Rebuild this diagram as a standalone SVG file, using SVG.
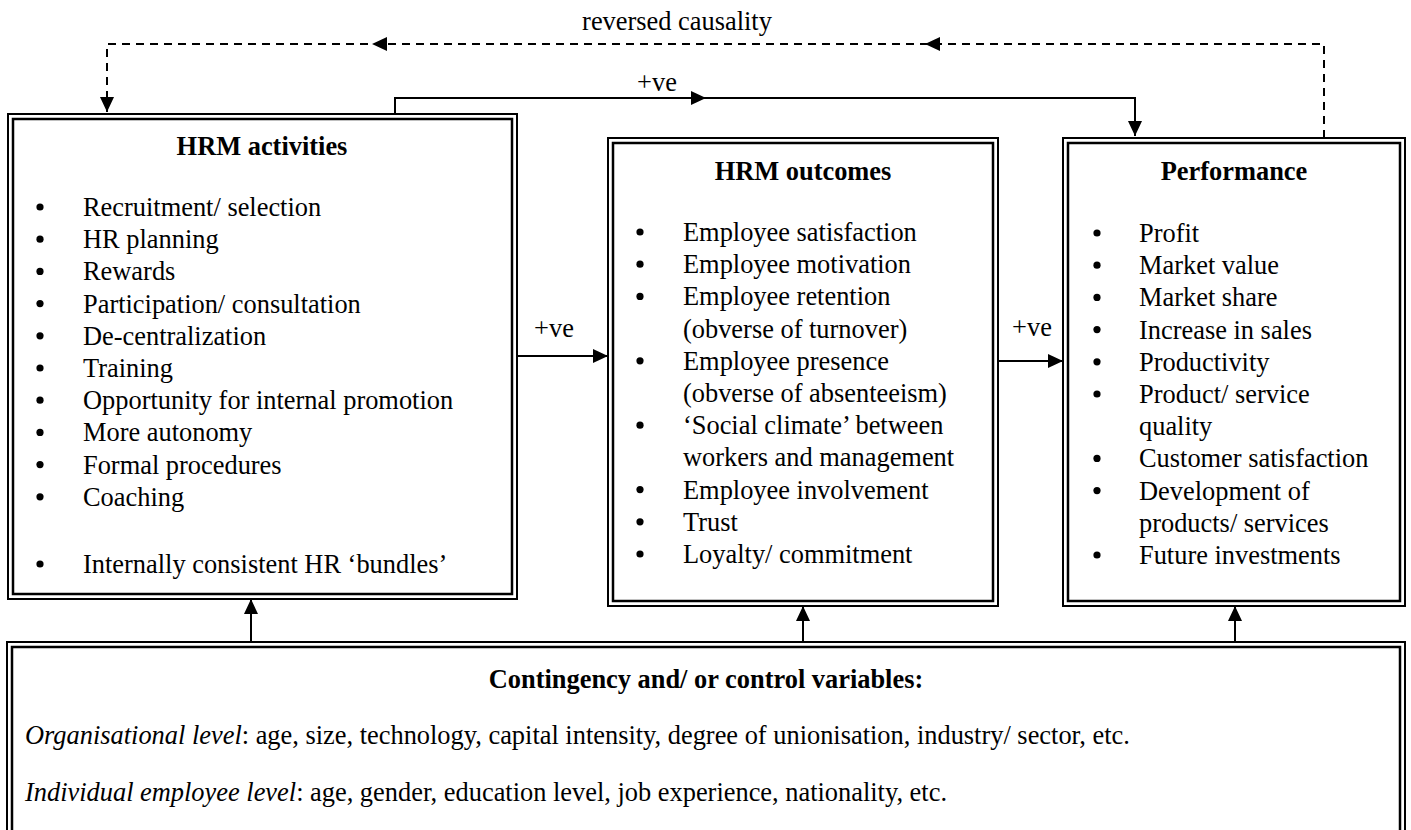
<svg xmlns="http://www.w3.org/2000/svg" width="1411" height="830" viewBox="0 0 1411 830">
<defs>
<style>
text{font-family:"Liberation Serif","Times New Roman",serif;font-size:26.4px;fill:#000}
.t{font-weight:bold;text-anchor:middle}
.o{fill:none;stroke:#000;stroke-width:2}
.i{fill:none;stroke:#000;stroke-width:2.5}
.c{fill:none;stroke:#000;stroke-width:2}
.d{fill:none;stroke:#000;stroke-width:2;stroke-dasharray:8 6}
.b{fill:#000}
</style>
<marker id="ah" markerUnits="userSpaceOnUse" markerWidth="15" markerHeight="14" refX="15" refY="7" orient="auto">
<path d="M0,0 L15,7 L0,14 z" fill="#000"/>
</marker>
</defs>
<rect width="1411" height="830" fill="#fff"/>

<g id="connectors">
<path class="d" d="M1324,138 V44 H107 V112" marker-end="url(#ah)"/>
<polygon points="925,44 940,37 940,51" class="b"/>
<polygon points="372,44 387,37 387,51" class="b"/>
<text x="677" y="30" text-anchor="middle">reversed causality</text>
<path class="c" d="M395,114 V98 H1135 V136" marker-end="url(#ah)"/>
<polygon points="706,98 691,91 691,105" class="b"/>
<text x="657" y="91" text-anchor="middle">+ve</text>
<path class="c" d="M517,356 H608" marker-end="url(#ah)"/>
<text x="554" y="337" text-anchor="middle">+ve</text>
<path class="c" d="M998,361 H1063" marker-end="url(#ah)"/>
<text x="1032" y="336" text-anchor="middle">+ve</text>
<path class="c" d="M251,642 V599" marker-end="url(#ah)"/>
<path class="c" d="M803,642 V606" marker-end="url(#ah)"/>
<path class="c" d="M1235,642 V606" marker-end="url(#ah)"/>
</g>

<g id="hrm-activities">
<rect class="o" x="8" y="114" width="509" height="485"/>
<rect class="i" x="13" y="119" width="499" height="475"/>
<text class="t" x="262" y="155">HRM activities</text>
<g class="b">
<circle cx="40" cy="207" r="3.6"/><circle cx="40" cy="239.2" r="3.6"/><circle cx="40" cy="271.4" r="3.6"/><circle cx="40" cy="303.6" r="3.6"/><circle cx="40" cy="335.8" r="3.6"/><circle cx="40" cy="368" r="3.6"/><circle cx="40" cy="400.2" r="3.6"/><circle cx="40" cy="432.4" r="3.6"/><circle cx="40" cy="464.6" r="3.6"/><circle cx="40" cy="496.8" r="3.6"/><circle cx="40" cy="564" r="3.6"/>
</g>
<text x="83" y="216">Recruitment/ selection</text>
<text x="83" y="248.2">HR planning</text>
<text x="83" y="280.4">Rewards</text>
<text x="83" y="312.6">Participation/ consultation</text>
<text x="83" y="344.8">De-centralization</text>
<text x="83" y="377">Training</text>
<text x="83" y="409.2">Opportunity for internal promotion</text>
<text x="83" y="441.4">More autonomy</text>
<text x="83" y="473.6">Formal procedures</text>
<text x="83" y="505.8">Coaching</text>
<text x="83" y="573">Internally consistent HR ‘bundles’</text>
</g>

<g id="hrm-outcomes">
<rect class="o" x="608" y="138" width="390" height="468"/>
<rect class="i" x="613" y="143" width="380" height="458"/>
<text class="t" x="803" y="180">HRM outcomes</text>
<g class="b">
<circle cx="640" cy="232" r="3.6"/><circle cx="640" cy="264.2" r="3.6"/><circle cx="640" cy="296.4" r="3.6"/><circle cx="640" cy="360.8" r="3.6"/><circle cx="640" cy="425.2" r="3.6"/><circle cx="640" cy="489.6" r="3.6"/><circle cx="640" cy="521.8" r="3.6"/><circle cx="640" cy="554" r="3.6"/>
</g>
<text x="683" y="241">Employee satisfaction</text>
<text x="683" y="273.2">Employee motivation</text>
<text x="683" y="305.4">Employee retention</text>
<text x="683" y="337.6">(obverse of turnover)</text>
<text x="683" y="369.8">Employee presence</text>
<text x="683" y="402">(obverse of absenteeism)</text>
<text x="683" y="434.2">‘Social climate’ between</text>
<text x="683" y="466.4">workers and management</text>
<text x="683" y="498.6">Employee involvement</text>
<text x="683" y="530.8">Trust</text>
<text x="683" y="563">Loyalty/ commitment</text>
</g>

<g id="performance">
<rect class="o" x="1063" y="138" width="342" height="468"/>
<rect class="i" x="1068" y="143" width="332" height="458"/>
<text class="t" x="1234" y="180">Performance</text>
<g class="b">
<circle cx="1097" cy="233" r="3.6"/><circle cx="1097" cy="265.2" r="3.6"/><circle cx="1097" cy="297.4" r="3.6"/><circle cx="1097" cy="329.6" r="3.6"/><circle cx="1097" cy="361.8" r="3.6"/><circle cx="1097" cy="394" r="3.6"/><circle cx="1097" cy="458.4" r="3.6"/><circle cx="1097" cy="490.6" r="3.6"/><circle cx="1097" cy="555" r="3.6"/>
</g>
<text x="1139" y="242">Profit</text>
<text x="1139" y="274.2">Market value</text>
<text x="1139" y="306.4">Market share</text>
<text x="1139" y="338.6">Increase in sales</text>
<text x="1139" y="370.8">Productivity</text>
<text x="1139" y="403">Product/ service</text>
<text x="1139" y="435.2">quality</text>
<text x="1139" y="467.4">Customer satisfaction</text>
<text x="1139" y="499.6">Development of</text>
<text x="1139" y="531.8">products/ services</text>
<text x="1139" y="564">Future investments</text>
</g>

<g id="contingency">
<rect class="o" x="7" y="642" width="1398" height="300"/>
<rect class="i" x="12" y="647" width="1388" height="300"/>
<text class="t" x="706" y="688">Contingency and/ or control variables:</text>
<text x="25" y="744"><tspan font-style="italic">Organisational level</tspan>: age, size, technology, capital intensity, degree of unionisation, industry/ sector, etc.</text>
<text x="25" y="801"><tspan font-style="italic">Individual employee level</tspan>: age, gender, education level, job experience, nationality, etc.</text>
</g>
</svg>
